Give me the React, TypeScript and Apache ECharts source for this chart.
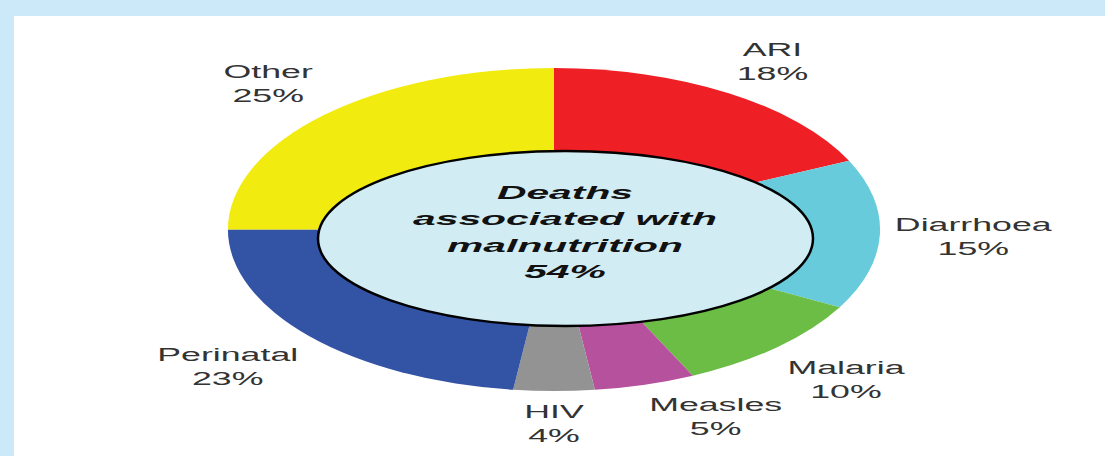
import React, { useEffect, useRef } from "react";
import * as echarts from "echarts";

const categories = ["ARI", "Diarrhoea", "Malaria", "Measles", "HIV", "Perinatal", "Other"];
const shares = [18, 15, 10, 5, 4, 23, 25];
const colors = ["#ee1f25", "#68cbdb", "#6cbd45", "#b6519d", "#939393", "#3353a5", "#f2eb10"];
const centerLines = ["Deaths", "associated with", "malnutrition", "54%"];

const W = 1105;
const H = 456;
const CX = 554;
const CY = 229.5;
const RX = 326;
const RY = 161.5;
const FONT = "'Liberation Sans', Arial, Helvetica, sans-serif";
const LABEL_SIZE = 19;
const LABEL_SCALE = 1.88;

function measure(lines: string[]): number {
  const c = document.createElement("canvas").getContext("2d");
  if (!c) return lines.reduce((m, l) => Math.max(m, l.length * LABEL_SIZE * 0.55), 0);
  c.font = `${LABEL_SIZE}px ${FONT}`;
  return lines.reduce((m, l) => Math.max(m, c.measureText(l).width), 0);
}

export default function App() {
  const ref = useRef<HTMLDivElement>(null);
  useEffect(() => {
    if (!ref.current) return;
    const chart = echarts.init(ref.current, undefined, { renderer: "svg" });
    const total = shares.reduce((a, b) => a + b, 0);
    const starts: number[] = [];
    let acc = 0;
    shares.forEach((v) => {
      starts.push(acc);
      acc += v;
    });
    const data = shares.map((v, i) => ({ name: categories[i], value: [v, starts[i]] }));

    chart.setOption({
      animation: false,
      backgroundColor: "transparent",
      graphic: [
        {
          type: "rect",
          z: -10,
          silent: true,
          shape: { x: 14, y: 16, width: W - 14, height: H - 16 },
          style: { fill: "#ffffff" },
        },
        {
          type: "ellipse",
          z: 50,
          shape: { cx: 565.5, cy: 238.5, rx: 247.5, ry: 87.5 },
          style: { fill: "#d2ecf4", stroke: "#000000", lineWidth: 2.5 },
        },
        {
          type: "text",
          z: 51,
          x: 565,
          y: 232,
          scaleX: 2.15,
          style: {
            text: centerLines.join("\n"),
            font: `italic bold 19px ${FONT}`,
            lineHeight: 26.5,
            fill: "#111111",
            textAlign: "center",
            textVerticalAlign: "middle",
            align: "center",
            verticalAlign: "middle",
          },
        },
      ],
      series: [
        {
          type: "custom",
          coordinateSystem: "none",
          data,
          renderItem: (params: any, api: any) => {
            const i = params.dataIndex;
            const v = api.value(0);
            const s = api.value(1);
            const a0 = -Math.PI / 2 + (s / total) * Math.PI * 2;
            const a1 = a0 + (v / total) * Math.PI * 2;
            const mid = ((s + v / 2) / total) * Math.PI * 2;
            const sn = Math.sin(mid);
            const cs = Math.cos(mid);
            // point on the outer ellipse at mid angle (relative to centre)
            const ex = RX * sn;
            const ey = -RY * cs;
            const lines = [categories[i], `${v}%`];
            const halfW = (measure(lines) * LABEL_SCALE) / 2;
            const ax = ex + 15 * sn;
            const ay = ey - 32 * Math.max(-1, Math.min(1, cs / 0.7));
            let lx = ax;
            if (sn > 0.1) lx = ax + halfW;
            else if (sn < -0.1) lx = ax - halfW;
            return {
              type: "group",
              x: CX,
              y: CY,
              children: [
                {
                  type: "sector",
                  scaleX: RX / RY,
                  shape: { cx: 0, cy: 0, r: RY, r0: 0, startAngle: a0, endAngle: a1, clockwise: true },
                  style: { fill: colors[i] },
                },
                {
                  type: "text",
                  x: lx,
                  y: ay,
                  scaleX: LABEL_SCALE,
                  style: {
                    text: lines.join("\n"),
                    font: `${LABEL_SIZE}px ${FONT}`,
                    lineHeight: 24,
                    fill: "#333333",
                    textAlign: "center",
                    textVerticalAlign: "middle",
                    align: "center",
                    verticalAlign: "middle",
                  },
                },
              ],
            };
          },
        },
      ],
    });
    return () => chart.dispose();
  }, []);

  return (
    <div style={{ position: "fixed", left: 0, top: 0, width: W, height: H, background: "#cce9f9" }}>
      <div ref={ref} style={{ width: W, height: H }} />
    </div>
  );
}
